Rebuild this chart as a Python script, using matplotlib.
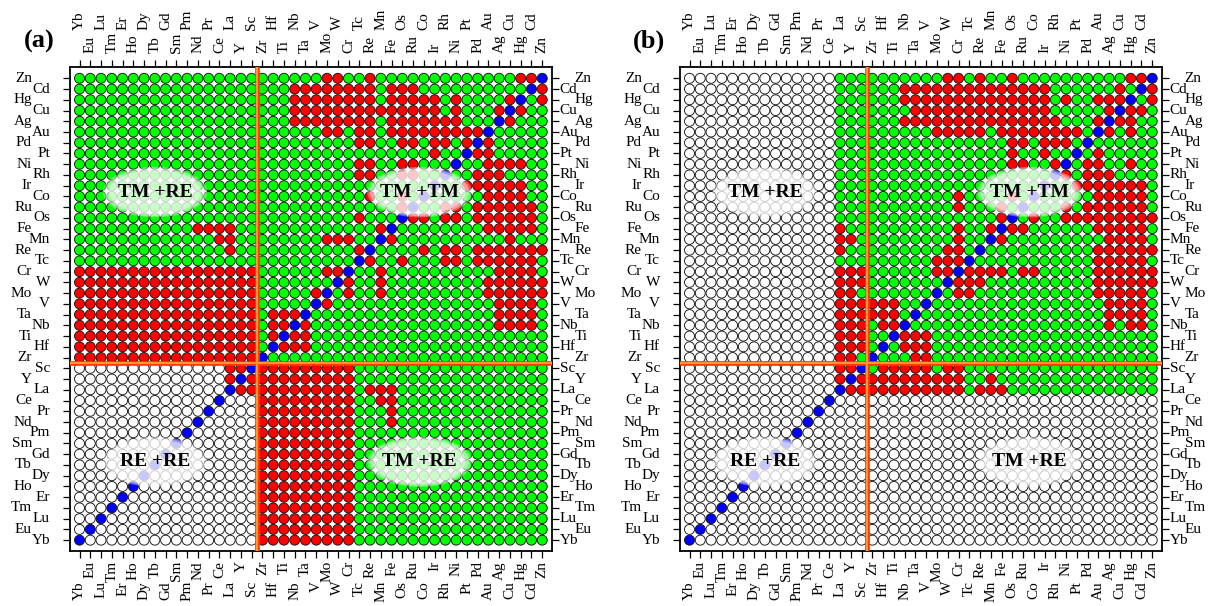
import matplotlib
matplotlib.use('Agg')
import matplotlib.pyplot as plt
import matplotlib.transforms as mtransforms
from matplotlib.patches import Circle, Ellipse
from matplotlib.collections import PatchCollection

plt.rcParams['font.family'] = ['Liberation Serif', 'DejaVu Serif']

# element order, bottom->top and left->right
elements = ['Yb', 'Eu', 'Lu', 'Tm', 'Er', 'Ho', 'Dy', 'Tb', 'Gd', 'Sm', 'Pm', 'Nd', 'Pr', 'Ce',
            'La', 'Y', 'Sc', 'Zr', 'Hf', 'Ti', 'Nb', 'Ta', 'V', 'Mo', 'W', 'Cr', 'Tc', 'Re',
            'Mn', 'Fe', 'Os', 'Ru', 'Co', 'Ir', 'Rh', 'Ni', 'Pt', 'Pd', 'Au', 'Ag', 'Cu',
            'Hg', 'Cd', 'Zn']
rare_earths = elements[:17]
re_all = ' '.join(rare_earths)

# red pairs
red_a = {
    'Zn': 'Mo W Re Hg Cd',
    'Cd': 'Nb Ta V Mo W Cr Tc Re Fe Os Ru',
    'Hg': 'Nb Ta V Mo W Cr Tc Re Fe Os Ru Co Ir Ni Cu',
    'Cu': 'Nb Ta V Mo W Cr Tc Re Mn Fe Os Ru Co Ir Ni Ag',
    'Ag': 'Nb Ta V Mo W Cr Tc Re Fe Os Ru Co Ir Rh Ni',
    'Au': 'Mo W Tc Re Fe Os Ru Co Ir Rh Ni Pt Pd',
    'Pd': 'Tc Re Os Ru Ir Rh Pt',
    'Pt': 'Ir',
    'Ni': 'Tc Re Os Ru',
    'Rh': 'Tc Re Os Ru',
    'Co': 'Re Os',
    'Ru': 'Os',
    'Os': 'Tc',
    'Fe': 'Mn Nd Pr Ce La',
    'Mn': 'Mo W Cr Ce La',
    'Re': 'Tc La',
    'Cr': 'Mo W ' + re_all,
    'W': re_all,
    'Mo': 'V ' + re_all,
    'V': re_all,
    'Ta': 'Hf Ti Nb ' + re_all,
    'Nb': 'Hf Ti ' + re_all,
    'Ti': 'Hf ' + re_all,
    'Hf': re_all,
    'Zr': re_all,
    'Sc': 'Y La',
    'Y': 'La',
}

# red pairs
red_b = {
    'Zn': 'W Cr Re Os Hg Cd',
    'Cd': 'Nb Ta V Mo W Cr Tc Re Mn Fe Os Ru Co Ir Cu',
    'Hg': 'Nb Ta V Mo W Cr Tc Re Mn Fe Os Ru Co Ir Ni Au Ag Cu',
    'Cu': 'Ta V Mo W Cr Tc Re Mn Fe Os Ru Co Ir Ag',
    'Ag': 'Nb Ta V Mo W Cr Tc Re Mn Fe Os Ru Co Ir Rh Au',
    'Au': 'Mo W Cr Tc Re Fe Os Ru Co Ir Rh Ni Pt',
    'Pd': 'Os Ru Ir Rh Ni',
    'Pt': 'Os Ir',
    'Ni': 'Os Ru Rh',
    'Co': 'Cr Os',
    'Ru': 'Cr Fe',
    'Os': 'Fe',
    'Fe': 'Cr Mn La',
    'Mn': 'Cr La Y',
    'Re': 'W Cr La',
    'Tc': 'Mo W Cr',
    'Cr': 'Mo W La Y Sc',
    'W': 'La Y Sc',
    'Mo': 'La Y',
    'V': 'Zr Hf Ti La Y Sc',
    'Ta': 'Zr Hf Ti La Y Sc',
    'Nb': 'Hf Ti La Y Sc',
    'Ti': 'La Y Sc',
    'Hf': 'La Y Sc',
    'Zr': 'La Y',
    'Sc': 'Y La',
    'Y': 'La',
}

# empty (white) circles
blank_within_a = rare_earths
blank_any_b = elements[:14]
blank_within_b = rare_earths

bubbles = [('TM +RE', 7.0, 32.4), ('TM +TM', 31.6, 32.4),
           ('RE +RE', 7.0, 7.3), ('TM +RE', 31.6, 7.3)]

colors = {'G': '#00ff00', 'R': '#ff0000', 'B': '#0000ff', 'W': '#ffffff'}
n = len(elements)
idx = {e: i for i, e in enumerate(elements)}


def build(red, blank_within, blank_any):
    m = [['G'] * n for _ in range(n)]
    for i in range(n):
        for j in range(n):
            if (elements[i] in blank_within and elements[j] in blank_within) or \
               elements[i] in blank_any or elements[j] in blank_any:
                m[i][j] = 'W'
    for a, partners in red.items():
        for b in partners.split():
            m[idx[a]][idx[b]] = 'R'
            m[idx[b]][idx[a]] = 'R'
    for i in range(n):
        m[i][i] = 'B'
    return m


def panel(ax, m):
    patches, fcs = [], []
    for i in range(n):
        for j in range(n):
            patches.append(Circle((j, i), 0.465))
            fcs.append(colors[m[i][j]])
    pc = PatchCollection(patches, facecolors=fcs, edgecolors='#151515', linewidths=0.65)
    ax.add_collection(pc)
    ax.set_xlim(-0.93, 43.88)
    ax.set_ylim(-1.01, 44.08)

    for txt, cx, cy in bubbles:
        for k, a in [(1.0, 0.35), (0.95, 0.4), (0.88, 0.45)]:
            ax.add_patch(Ellipse((cx, cy), 9.7 * k, 4.7 * k, facecolor='white',
                                 edgecolor='none', alpha=a, zorder=3))
        ax.text(cx, cy, txt, ha='center', va='center', fontsize=14,
                fontweight='bold', zorder=4)

    ax.axvline(16.5, color='#ff3c00', lw=3.4, zorder=5)
    ax.axvline(16.5, color='#ff9a30', lw=1.4, zorder=6)
    ax.axhline(16.5, color='#ff3c00', lw=3.4, zorder=5)
    ax.axhline(16.5, color='#ff9a30', lw=1.4, zorder=6)

    ax.set_xticks(range(n))
    ax.set_yticks(range(n))
    ax.set_xticklabels([])
    ax.set_yticklabels([])
    ax.tick_params(direction='out', length=5, width=0.9, top=True, right=True,
                   labelbottom=False, labelleft=False)
    for s in ax.spines.values():
        s.set_linewidth(1.3)

    fig = ax.figure
    tx = mtransforms.blended_transform_factory(ax.transData, ax.transAxes)
    ty = mtransforms.blended_transform_factory(ax.transAxes, ax.transData)
    for i, name in enumerate(elements):
        far = (i % 2 == 0)
        up = 36.7 if far else 13.7
        down = 30 if far else 10
        ax.text(i, 1, name, rotation=90, ha='center', va='bottom', fontsize=11,
                transform=mtransforms.offset_copy(tx, fig, y=up, units='dots'))
        ax.text(i, 0, name, rotation=90, ha='center', va='top', fontsize=11,
                transform=mtransforms.offset_copy(tx, fig, y=-down, units='dots'))
        farv = (i % 2 == 1)
        ax.text(0, i, name, ha='right', va='center', fontsize=11,
                transform=mtransforms.offset_copy(ty, fig, x=-(37.5 if farv else 19.5), units='dots'))
        ax.text(1, i, name, ha='left', va='center', fontsize=11,
                transform=mtransforms.offset_copy(ty, fig, x=(23 if farv else 8), units='dots'))


fig = plt.figure(figsize=(12.26, 6.06), dpi=100)
fig.patch.set_facecolor('white')
ax1 = fig.add_axes([69.5 / 1226, 55 / 606, 482.2 / 1226, 484.3 / 606])
ax2 = fig.add_axes([679.5 / 1226, 55 / 606, 482.2 / 1226, 484.3 / 606])

panel(ax1, build(red_a, blank_within_a, []))
panel(ax2, build(red_b, blank_within_b, blank_any_b))

fig.text(39.5 / 1226, 1 - 41.5 / 606, '(a)', ha='center', va='center', fontsize=19, fontweight='bold')
fig.text(649.5 / 1226, 1 - 41.5 / 606, '(b)', ha='center', va='center', fontsize=19, fontweight='bold')

fig.savefig('out.png', dpi=100)
